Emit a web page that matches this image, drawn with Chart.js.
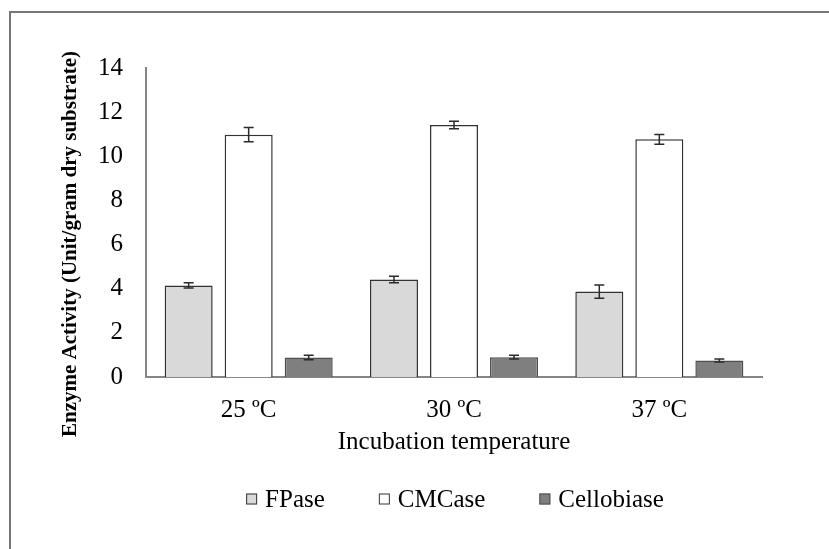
<!DOCTYPE html>
<html>
<head>
<meta charset="utf-8">
<script src="https://cdn.jsdelivr.net/npm/chart.js@4/dist/chart.umd.min.js"></script>
<style>
  html, body { margin: 0; padding: 0; background: #fff; }
  #wrap { position: relative; width: 829px; height: 549px; overflow: hidden; }
  #frame { position: absolute; left: 9px; top: 11px; width: 900px; height: 600px;
           border-left: 2px solid #767676; border-top: 2px solid #767676; }
  canvas { position: absolute; left: 0; top: 0; }
</style>
</head>
<body>
<div id="wrap">
  <div id="frame"></div>
  <canvas id="chart" width="829" height="549"></canvas>
</div>
<script>
// chart data
const temperatures = ['25 ºC', '30 ºC', '37 ºC'];
const fpase = [4.15, 4.42, 3.87];
const fpaseErr = [0.12, 0.15, 0.30];
const cmcase = [10.98, 11.42, 10.77];
const cmcaseErr = [0.32, 0.17, 0.22];
const cellobiase = [0.88, 0.90, 0.75];
const cellobiaseErr = [0.10, 0.08, 0.07];
const yTicks = [0, 2, 4, 6, 8, 10, 12, 14];

const FONT = "'Liberation Serif', 'Times New Roman', serif";
Chart.defaults.font.family = FONT;
Chart.defaults.color = '#000';

// error bars drawn on top of each bar, through the y scale
const errorBars = {
  id: 'errorBars',
  afterDatasetsDraw(chart) {
    const ctx = chart.ctx;
    const y = chart.scales.y;
    ctx.save();
    ctx.strokeStyle = '#2b2b2b';
    ctx.lineWidth = 1.5;
    chart.data.datasets.forEach((ds, i) => {
      const meta = chart.getDatasetMeta(i);
      meta.data.forEach((bar, j) => {
        const v = ds.data[j], e = ds.errors[j];
        const top = y.getPixelForValue(v + e);
        const bot = y.getPixelForValue(v - e);
        const x = bar.x;
        ctx.beginPath();
        ctx.moveTo(x, top); ctx.lineTo(x, bot);
        ctx.moveTo(x - 5, top); ctx.lineTo(x + 5, top);
        ctx.moveTo(x - 5, bot); ctx.lineTo(x + 5, bot);
        ctx.stroke();
      });
    });
    ctx.restore();
  }
};

// rotated y title sits lower than the axis centre in the reference
const yTitle = {
  id: 'yTitle',
  afterDraw(chart) {
    const ctx = chart.ctx;
    ctx.save();
    ctx.translate(71, 244);
    ctx.rotate(-Math.PI / 2);
    ctx.font = 'bold 21px ' + FONT;
    ctx.fillStyle = '#000';
    ctx.textAlign = 'center';
    ctx.textBaseline = 'middle';
    ctx.fillText('Enzyme Activity (Unit/gram dry substrate)', 0, 0);
    ctx.restore();
  }
};

// legend with wide item spacing, like the Excel one
const wideLegend = {
  id: 'wideLegend',
  afterDraw(chart) {
    const ctx = chart.ctx;
    const area = chart.chartArea;
    const box = 11, gapText = 8, gapItem = 54, cy = 499;
    ctx.save();
    ctx.font = '25px ' + FONT;
    const items = chart.data.datasets.map(ds => ({
      ds, w: box + gapText + ctx.measureText(ds.label).width
    }));
    const total = items.reduce((s, it) => s + it.w, 0) + gapItem * (items.length - 1);
    let x = (area.left + area.right) / 2 + 1 - total / 2;
    items.forEach(it => {
      ctx.fillStyle = it.ds.backgroundColor;
      ctx.fillRect(x, cy - box / 2, box, box);
      ctx.strokeStyle = it.ds.borderColor;
      ctx.lineWidth = 1;
      ctx.strokeRect(x + 0.5, cy - box / 2 + 0.5, box - 1, box - 1);
      ctx.fillStyle = '#000';
      ctx.textBaseline = 'middle';
      ctx.textAlign = 'left';
      ctx.fillText(it.ds.label, x + box + gapText, cy + 1);
      x += it.w + gapItem;
    });
    ctx.restore();
  }
};

new Chart(document.getElementById('chart'), {
  type: 'bar',
  data: {
    labels: temperatures,
    datasets: [
      { label: 'FPase', data: fpase, errors: fpaseErr,
        backgroundColor: '#d9d9d9', borderColor: '#333333', borderWidth: 1.5 },
      { label: 'CMCase', data: cmcase, errors: cmcaseErr,
        backgroundColor: '#ffffff', borderColor: '#333333', borderWidth: 1.5 },
      { label: 'Cellobiase', data: cellobiase, errors: cellobiaseErr,
        backgroundColor: '#7f7f7f', borderColor: '#4f4f4f', borderWidth: 1.5 }
    ]
  },
  options: {
    responsive: false,
    animation: false,
    categoryPercentage: 0.877,
    barPercentage: 0.8,
    layout: { padding: { top: 68, right: 67, bottom: 0, left: 0 } },
    plugins: {
      legend: { display: false },
      tooltip: { enabled: false }
    },
    scales: {
      x: {
        afterFit(scale) { scale.height = 172; },
        grid: { display: false, drawTicks: false },
        border: { display: true, color: '#868686', width: 2 },
        ticks: { padding: 18, font: { size: 25 }, color: '#000' },
        title: {
          display: true,
          text: 'Incubation temperature',
          font: { size: 25 },
          color: '#000',
          padding: { top: 3, bottom: 92 }
        }
      },
      y: {
        min: 0,
        max: 14,
        afterFit(scale) { scale.width = 146; },
        afterBuildTicks(scale) { scale.ticks = yTicks.map(v => ({ value: v })); },
        grid: { display: false, drawTicks: false },
        border: { display: true, color: '#868686', width: 2 },
        ticks: { padding: 23, font: { size: 25 }, color: '#000' }
      }
    }
  },
  plugins: [errorBars, yTitle, wideLegend]
});
</script>
</body>
</html>
